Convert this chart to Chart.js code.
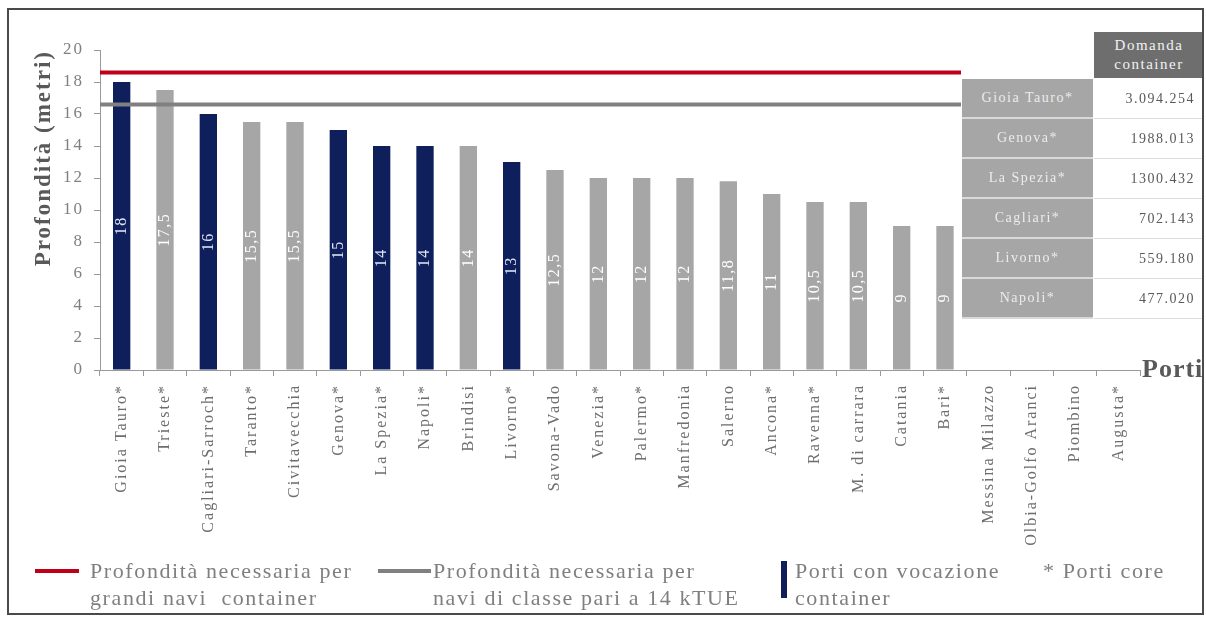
<!DOCTYPE html>
<html>
<head>
<meta charset="utf-8">
<script src="https://cdn.jsdelivr.net/npm/chart.js@4.4.1/dist/chart.umd.min.js"></script>
<style>
    body { margin: 0; background: #fff; font-family: "Liberation Serif", "DejaVu Serif", serif; }
    #wrap { position: relative; width: 1206px; height: 617px; overflow: hidden; background: #fff; }
    #wrap canvas { position: absolute; left: 0; top: 0; }
    #frame { position: absolute; left: 7px; top: 8px; width: 1197px; height: 607px; border: 2px solid #4a4a4a; box-sizing: border-box; pointer-events: none; }
    .abs { position: absolute; white-space: nowrap; }
    .leg { color: #7f7f7f; font-size: 22px; line-height: 27px; letter-spacing: 1.6px; }
    .swatch { position: absolute; }
    .cell { position: absolute; box-sizing: border-box; display: flex; align-items: center; font-size: 14px; letter-spacing: 1.5px; }
    .name { background: #a6a6a6; color: #ececec; justify-content: center; border-bottom: 2px solid #d9d9d9; }
    .val { background: #fff; color: #595959; justify-content: flex-end; padding-right: 8px; border-bottom: 1px solid #dcdcdc; border-right: 1px solid #dcdcdc; }
    #head { background: #6e6e6e; color: #f2f2f2; text-align: center; justify-content: center; line-height: 19px; font-size: 15px; }
    #porti { font-weight: bold; font-size: 26px; color: #595959; letter-spacing: 1px; }
</style>
</head>
<body>
<div id="wrap">
    <canvas id="depthChart" width="1206" height="617"></canvas>
    <div id="table"></div>
    <div id="porti" class="abs" style="left:1142px; top:354px;">Porti</div>

    <!-- legend -->
    <div class="swatch" style="left:35px; top:569px; width:44px; height:4px; background:#c00018;"></div>
    <div class="abs leg" style="left:90px; top:557px;">Profondità necessaria per<br>grandi navi &nbsp;container</div>
    <div class="swatch" style="left:378px; top:569px; width:53px; height:4px; background:#808080;"></div>
    <div class="abs leg" style="left:433px; top:557px;">Profondità necessaria per<br>navi di classe pari a 14 kTUE</div>
    <div class="swatch" style="left:781px; top:561px; width:6px; height:37px; background:#0f1f5c;"></div>
    <div class="abs leg" style="left:795px; top:557px;">Porti con vocazione</div>
    <div class="abs leg" style="left:795px; top:584px;">container</div>
    <div class="abs leg" style="left:1043px; top:557px;">* Porti core</div>
    <div id="frame"></div>
</div>
<script>
    // Ports, ordered as in the picture (last four have no depth value)
    const ports = ['Gioia Tauro*', 'Trieste*', 'Cagliari-Sarroch*', 'Taranto*', 'Civitavecchia', 'Genova*',
        'La Spezia*', 'Napoli*', 'Brindisi', 'Livorno*', 'Savona-Vado', 'Venezia*', 'Palermo*', 'Manfredonia',
        'Salerno', 'Ancona*', 'Ravenna*', 'M. di carrara', 'Catania', 'Bari*', 'Messina Milazzo',
        'Olbia-Golfo Aranci', 'Piombino', 'Augusta*'];
    const depths = [18, 17.5, 16, 15.5, 15.5, 15, 14, 14, 14, 13, 12.5, 12, 12, 12, 11.8, 11, 10.5, 10.5, 9, 9,
        null, null, null, null];
    const containerPorts = ['Gioia Tauro*', 'Cagliari-Sarroch*', 'Genova*', 'La Spezia*', 'Napoli*', 'Livorno*'];

    // Reference depths (metri)
    const largeShipDepth = 18.6;
    const classShipDepth = 16.6;

    // Domanda container table
    const demandPorts = ['Gioia Tauro*', 'Genova*', 'La Spezia*', 'Cagliari*', 'Livorno*', 'Napoli*'];
    const demandValues = ['3.094.254', '1988.013', '1300.432', '702.143', '559.180', '477.020'];

    const NAVY = '#0f1f5c';
    const GRAY = '#a6a6a6';
    const SERIF = '"Liberation Serif", "DejaVu Serif", serif';
    const linesEndX = 961;

    // build the little table on the right
    const table = document.getElementById('table');
    let html = '<div id="head" class="cell" style="left:1094px; top:32px; width:110px; height:46px;">Domanda<br>container</div>';
    demandPorts.forEach((p, i) => {
        const top = 79 + i * 40;
        html += `<div class="cell name" style="left:962px; top:${top}px; width:131px; height:40px;">${p}</div>`;
        html += `<div class="cell val" style="left:1094px; top:${top}px; width:110px; height:40px;">${demandValues[i]}</div>`;
    });
    table.innerHTML = html;

    const spacing = {
        id: 'spacing',
        beforeDraw(chart) {
            chart.ctx.letterSpacing = '2px';
        }
    };

    // horizontal red / gray depth lines
    const depthLines = {
        id: 'depthLines',
        afterDatasetsDraw(chart) {
            const {ctx, chartArea, scales} = chart;
            [[largeShipDepth, '#c00018'], [classShipDepth, '#808080']].forEach(([v, c]) => {
                const y = scales.y.getPixelForValue(v);
                ctx.save();
                ctx.strokeStyle = c;
                ctx.lineWidth = 4;
                ctx.beginPath();
                ctx.moveTo(chartArea.left, y);
                ctx.lineTo(linesEndX, y);
                ctx.stroke();
                ctx.restore();
            });
        }
    };

    // vertical value labels inside the bars
    const barLabels = {
        id: 'barLabels',
        afterDatasetsDraw(chart) {
            const ctx = chart.ctx;
            const meta = chart.getDatasetMeta(0);
            meta.data.forEach((bar, i) => {
                const v = depths[i];
                if (v === null) return;
                ctx.save();
                ctx.translate(bar.x, (bar.y + bar.base) / 2);
                ctx.rotate(-Math.PI / 2);
                ctx.font = '16px ' + SERIF;
                ctx.letterSpacing = '1.5px';
                ctx.fillStyle = containerPorts.includes(ports[i]) ? '#dde4f5' : '#ffffff';
                ctx.textAlign = 'center';
                ctx.textBaseline = 'middle';
                ctx.fillText(String(v).replace('.', ','), 0, 0);
                ctx.restore();
            });
        }
    };

    new Chart(document.getElementById('depthChart'), {
        type: 'bar',
        data: {
            labels: ports,
            datasets: [{
                data: depths,
                backgroundColor: ports.map(p => containerPorts.includes(p) ? NAVY : GRAY),
                categoryPercentage: 1,
                barPercentage: 0.4
            }]
        },
        options: {
            responsive: false,
            animation: false,
            layout: { padding: { left: 0, top: 50, right: 66, bottom: 47 } },
            plugins: {
                legend: { display: false },
                tooltip: { enabled: false }
            },
            scales: {
                x: {
                    ticks: {
                        color: '#6e6e6e',
                        font: { family: SERIF, size: 16 },
                        minRotation: 90,
                        maxRotation: 90,
                        autoSkip: false,
                        padding: 8
                    },
                    grid: { display: true, drawOnChartArea: false, drawTicks: true, tickLength: 6, color: '#999', offset: true },
                    border: { color: '#999', width: 1 },
                    afterFit(s) { s.height = 200; }
                },
                y: {
                    min: 0,
                    max: 20,
                    ticks: { stepSize: 2, color: '#808080', font: { family: SERIF, size: 17 }, padding: 10 },
                    grid: { display: true, drawOnChartArea: false, drawTicks: true, tickLength: 6, color: '#999' },
                    border: { color: '#999', width: 1 },
                    title: {
                        display: true,
                        text: 'Profondità (metri)',
                        align: 'end',
                        color: '#595959',
                        font: { family: SERIF, size: 23, weight: 'bold' },
                        padding: { top: 30, bottom: 0 }
                    },
                    afterFit(s) { s.width = 100; }
                }
            }
        },
        plugins: [spacing, depthLines, barLabels]
    });
</script>
</body>
</html>
